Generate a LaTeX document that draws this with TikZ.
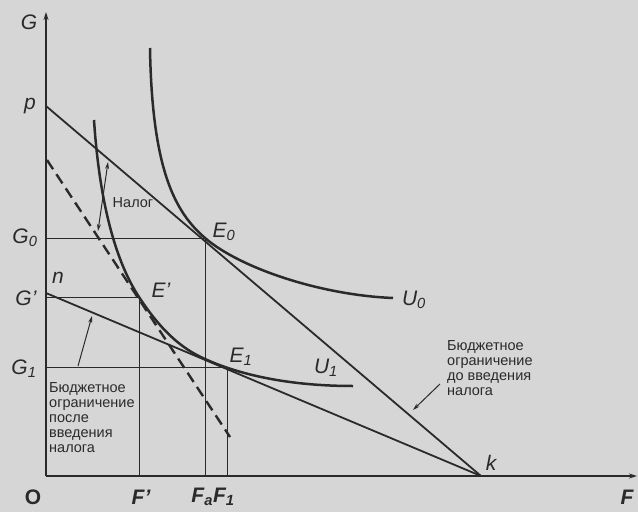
\documentclass[tikz,border=0pt]{standalone}
\usepackage{fontspec}
\setmainfont{Liberation Sans}
\usetikzlibrary{arrows.meta}
\definecolor{bg}{HTML}{D6D6D6}
\definecolor{ink}{HTML}{2A2A2A}
\newcommand{\sbs}[1]{\textsubscript{#1}}
\begin{document}
\begin{tikzpicture}[x=1pt,y=-1pt,
  axisline/.style={draw=ink,line width=1.3pt},
  guide/.style={draw=ink,line width=1pt},
  budget/.style={draw=ink,line width=1.8pt},
  curve/.style={draw=ink,line width=2.5pt},
  dashline/.style={draw=ink,line width=2.4pt,dash pattern=on 11pt off 6pt},
  note/.style={draw=ink,line width=1pt},
  lbl/.style={text=ink,font=\fontsize{21}{23}\selectfont\itshape,inner sep=0pt},
  blbl/.style={text=ink,font=\fontsize{21}{23}\selectfont\bfseries\itshape,inner sep=0pt},
  txt/.style={text=ink,font=\fontsize{14.5}{15}\selectfont,align=left,inner sep=0pt}]
\fill[bg] (0,0) rectangle (638,512);
\useasboundingbox (0,0) rectangle (638,512);
% key points
\coordinate (O) at (46,476);
\coordinate (Gtop) at (46,12);
\coordinate (Fend) at (637,476);
\coordinate (p) at (46,106);
\coordinate (k) at (481,476);
\coordinate (n) at (46,293);
\coordinate (G0) at (46,238);
\coordinate (Gp) at (46,297);
\coordinate (G1) at (46,367);
\coordinate (E0) at (205,238);
\coordinate (Ep) at (139,297);
\coordinate (E1) at (205,359);
\coordinate (E1c) at (227,367);
\coordinate (Fa) at (205,476);
\coordinate (Fp) at (139,476);
\coordinate (F1) at (227,476);
\coordinate (dA) at (47,160);
\coordinate (dB) at (230,437);
% axes
\draw[axisline,-{Stealth[length=8pt,width=5pt]}] (O) -- (Gtop);
\draw[axisline,-{Stealth[length=8pt,width=5pt]}] (O) -- (Fend);
% guides
\draw[guide] (G0) -- (E0) -- (Fa);
\draw[guide] (Gp) -- (Ep) -- (Fp);
\draw[guide] (G1) -- (E1c) -- (F1);
% budget lines
\draw[budget] (p) -- (k);
\draw[budget] (n) -- (k);
\draw[dashline] (dA) -- (dB);
% indifference curves
\draw[curve] (150,48) .. controls (152,170) and (175,212) .. (E0)
  .. controls (240,268) and (320,295) .. (393,298);
\draw[curve] (94,120) .. controls (100,210) and (118,265) .. (Ep)
  .. controls (160,329) and (180,348) .. (E1)
  .. controls (240,375) and (290,386) .. (353,386);
% labels
\node[lbl] (lG) at (29,22) {G};
\node[lbl] (lp) at (30,106) {p};
\node[lbl] (lG0) at (25,238) {G\sbs{0}};
\node[lbl] (ln) at (58,278) {n};
\node[lbl] (lGp) at (26,298) {G’};
\node[lbl] (lG1) at (24,369) {G\sbs{1}};
\node[lbl] (lE0) at (224,232) {E\sbs{0}};
\node[lbl] (lEp) at (161,290) {E’};
\node[lbl] (lE1) at (241,357) {E\sbs{1}};
\node[lbl] (lU0) at (414,300) {U\sbs{0}};
\node[lbl] (lU1) at (326,368) {U\sbs{1}};
\node[lbl] (lk) at (491,463) {k};
\node[blbl,font=\fontsize{21}{23}\selectfont\bfseries] (lO) at (33,497) {O};
\node[blbl] (lFp) at (141,497) {F’};
\node[blbl] (lFa) at (213,497) {F\sbs{a}F\sbs{1}};
\node[blbl] (lF) at (627,497) {F};
% tax
\node[txt] (tax) at (133,203) {Налог};
\coordinate (taxT) at (108,162);
\coordinate (taxB) at (98,231);
\draw[note,{Stealth[length=7pt,width=4pt]}-{Stealth[length=7pt,width=4pt]}] (taxT) -- (taxB);
% budget notes
\node[txt,anchor=north west] (after) at (49,382) {Бюджетное\\ограничение\\после\\введения\\налога};
\coordinate (aS) at (78,366);
\coordinate (aE) at (92,316);
\draw[note,-{Stealth[length=7pt,width=4pt]}] (aS) -- (aE);
\node[txt,anchor=north west] (before) at (447,340) {Бюджетное\\ограничение\\до введения\\налога};
\coordinate (bS) at (440,384);
\coordinate (bE) at (413,410);
\draw[note,-{Stealth[length=7pt,width=4pt]}] (bS) -- (bE);
\end{tikzpicture}
\end{document}
